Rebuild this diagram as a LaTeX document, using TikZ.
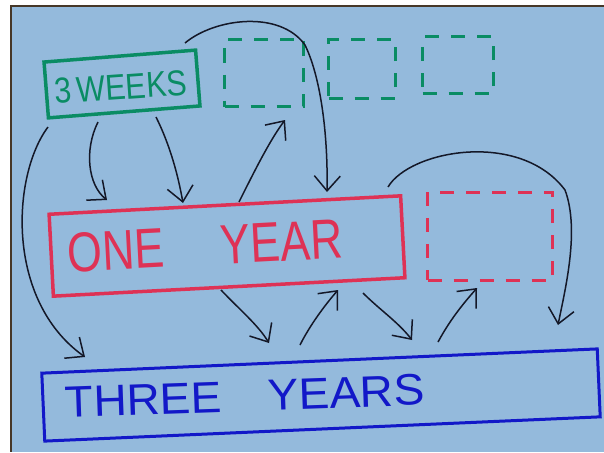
\documentclass[tikz,border=0pt]{standalone}
\usepackage{fontspec}
\setmainfont{Liberation Sans}
\usetikzlibrary{arrows.meta}
\definecolor{card}{RGB}{148,186,220}
\definecolor{cardedge}{RGB}{70,55,40}
\definecolor{markgreen}{RGB}{10,140,100}
\definecolor{markred}{RGB}{222,50,85}
\definecolor{markblue}{RGB}{18,24,200}
\definecolor{ink}{RGB}{20,24,40}
\tikzset{
 box/.style={draw,line width=3.5pt,inner sep=0pt},
 slot/.style={draw,line width=3pt,dash pattern=on 14pt off 12pt,inner sep=0pt},
 label/.style={inner sep=0pt},
 arr/.style={ink,line width=1.5pt,-{Straight Barb[length=15pt,width=26pt]}}
}
\begin{document}
\begin{tikzpicture}[x=1pt,y=-1pt]
 \useasboundingbox (0,0) rectangle (604,452);
 \fill[white] (0,0) rectangle (604,452);
 \fill[cardedge] (10,5) rectangle (604,452);
 \fill[card] (12,7) rectangle (604,452);
 % boxes
 \node[box,markgreen,minimum width=152pt,minimum height=56pt,rotate=4.5] (weeks) at (122,84) {};
 \node[label,markgreen,rotate=4,xscale=.85,font=\fontsize{36}{36}\selectfont] (weekstext) at (121,87) {3\hspace{.15em}WEEKS};
 \node[slot,markgreen,minimum width=79pt,minimum height=67pt] (slota) at (264,73) {};
 \node[slot,markgreen,minimum width=67pt,minimum height=58pt] (slotb) at (362,69) {};
 \node[slot,markgreen,minimum width=71pt,minimum height=56pt] (slotc) at (458,65) {};
 \node[box,markred,minimum width=352pt,minimum height=82pt,rotate=3] (year) at (227,246) {};
 \node[label,markred,rotate=3,xscale=.8,font=\fontsize{56}{56}\selectfont] (yeartext) at (205,246) {ONE\hspace{1.25em}YEAR};
 \node[slot,markred,minimum width=125pt,minimum height=88pt] (yearslot) at (490,236) {};
 \node[box,markblue,line width=3pt,minimum width=556pt,minimum height=68pt,rotate=2.5] (three) at (321,395) {};
 \node[label,markblue,rotate=2,xscale=1.05,font=\fontsize{44}{44}\selectfont] (threetext) at (245,396) {THREE\hspace{1em}YEARS};
 % arrow ends
 \coordinate (a1) at (48,127);  \coordinate (b1) at (85,357);
 \coordinate (a2) at (98,122);  \coordinate (b2) at (107,200);
 \coordinate (a3) at (156,117); \coordinate (b3) at (183,203);
 \coordinate (a4) at (239,202); \coordinate (b4) at (285,120);
 \coordinate (a5) at (185,43);  \coordinate (b5) at (327,192);
 \coordinate (a6) at (388,187); \coordinate (b6) at (558,325);
 \coordinate (a7) at (221,290); \coordinate (b7) at (269,343);
 \coordinate (a8) at (300,345); \coordinate (b8) at (338,290);
 \coordinate (a9) at (363,293); \coordinate (b9) at (412,340);
 \coordinate (a10) at (438,342); \coordinate (b10) at (477,288);
 % arrows
 \draw[arr] (a1) .. controls (12,175) and (5,300) .. (b1);
 \draw[arr] (a2) .. controls (84,150) and (88,185) .. (b2);
 \draw[arr] (a3) .. controls (170,145) and (178,175) .. (b3);
 \draw[arr] (a4) .. controls (255,170) and (270,140) .. (b4);
 \draw[arr] (a5) .. controls (215,18) and (280,10) .. (305,45) .. controls (322,80) and (328,140) .. (b5);
 \draw[arr] (a6) .. controls (410,150) and (520,130) .. (565,190) .. controls (580,230) and (565,290) .. (b6);
 \draw[arr] (a7) .. controls (240,310) and (258,325) .. (b7);
 \draw[arr] (a8) .. controls (310,325) and (325,305) .. (b8);
 \draw[arr] (a9) .. controls (380,310) and (398,322) .. (b9);
 \draw[arr] (a10) .. controls (450,320) and (462,305) .. (b10);
\end{tikzpicture}
\end{document}
